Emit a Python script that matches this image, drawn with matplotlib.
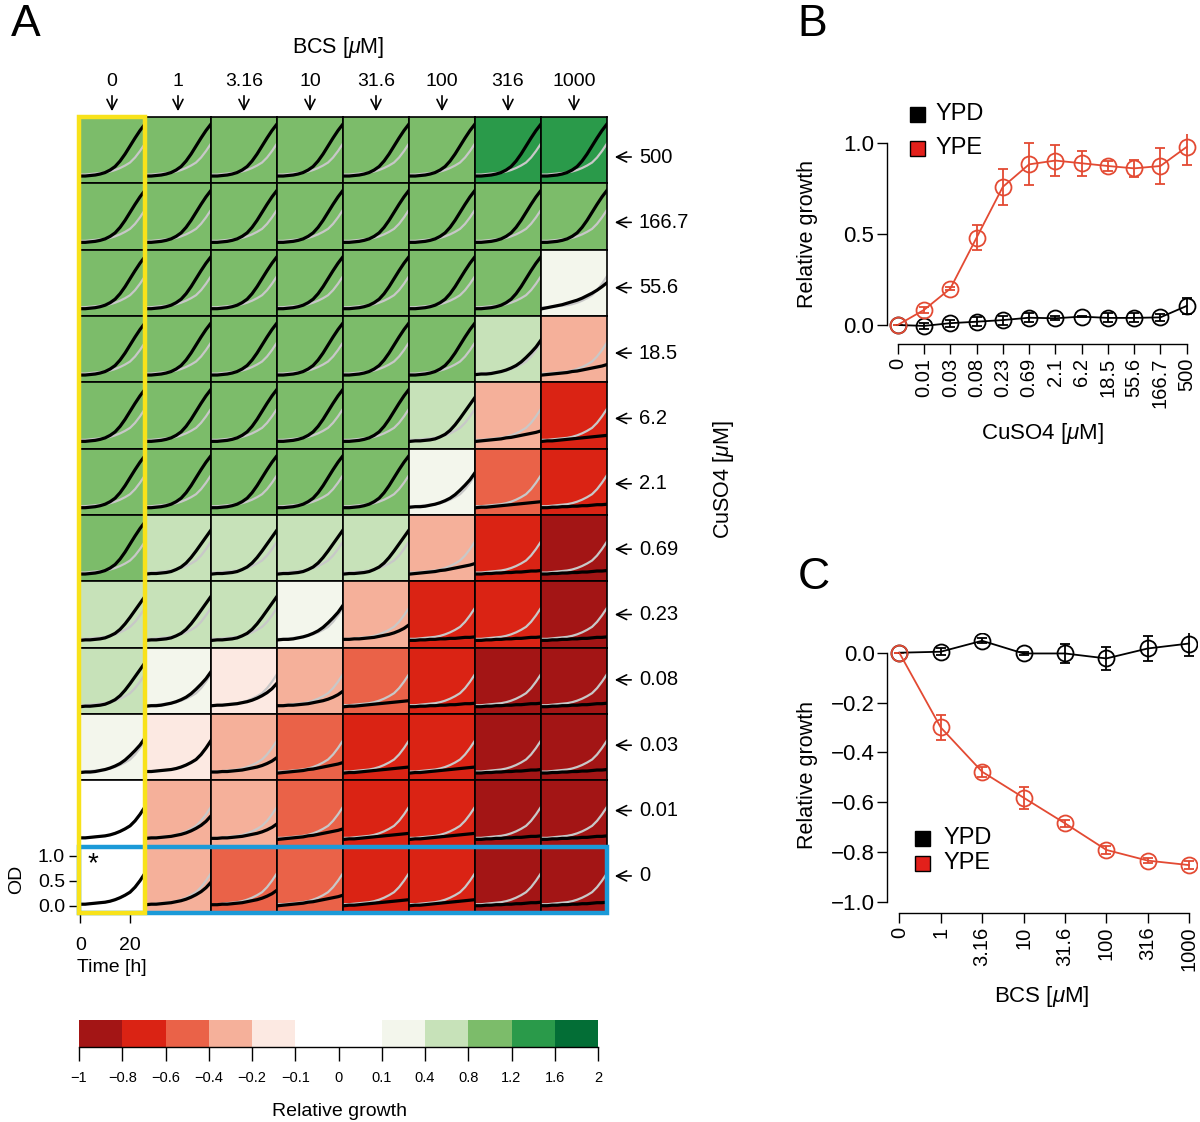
import matplotlib
matplotlib.use("Agg")
import matplotlib.pyplot as plt
from matplotlib.colors import ListedColormap, BoundaryNorm
from matplotlib.patches import Rectangle

plt.rcParams["font.family"] = ["Liberation Sans", "DejaVu Sans"]
plt.rcParams["mathtext.fontset"] = "custom"
plt.rcParams["mathtext.rm"] = "Liberation Sans"
plt.rcParams["mathtext.it"] = "Liberation Sans:italic"

W, H = 1200, 1122

# --- panel A: growth matrix -------------------------------------------------
BCS_LABELS = ["0", "1", "3.16", "10", "31.6", "100", "316", "1000"]
CUSO4_LABELS = ["500", "166.7", "55.6", "18.5", "6.2", "2.1",
                "0.69", "0.23", "0.08", "0.03", "0.01", "0"]

BOUNDS = [-1, -0.8, -0.6, -0.4, -0.2, -0.1, 0, 0.1, 0.4, 0.8, 1.2, 1.6, 2]
BOUND_LABELS = ["\u22121", "\u22120.8", "\u22120.6", "\u22120.4", "\u22120.2",
                "\u22120.1", "0", "0.1", "0.4", "0.8", "1.2", "1.6", "2"]
BIN_COLORS = ["#A31515", "#DA2314", "#EA6248", "#F5B09A", "#FCE9E2", "#FFFFFF",
              "#FFFFFF", "#F3F6EC", "#C7E2B9", "#7CBC6A", "#2A9A4A", "#036E36"]

# relative growth per cell (rows: CuSO4 high -> low, cols: BCS low -> high)
GROWTH = [
    [1.0, 1.0, 1.0, 1.0, 1.0, 1.0, 1.4, 1.4],
    [1.0, 1.0, 1.0, 1.0, 1.0, 1.0, 1.0, 1.0],
    [1.0, 1.0, 1.0, 1.0, 1.0, 1.0, 1.0, 0.2],
    [1.0, 1.0, 1.0, 1.0, 1.0, 1.0, 0.6, -0.3],
    [1.0, 1.0, 1.0, 1.0, 1.0, 0.6, -0.3, -0.7],
    [1.0, 1.0, 1.0, 1.0, 1.0, 0.2, -0.5, -0.7],
    [1.0, 0.6, 0.6, 0.6, 0.6, -0.3, -0.7, -0.9],
    [0.6, 0.6, 0.6, 0.2, -0.3, -0.7, -0.7, -0.9],
    [0.6, 0.2, -0.15, -0.3, -0.5, -0.7, -0.9, -0.9],
    [0.2, -0.15, -0.3, -0.5, -0.7, -0.7, -0.9, -0.9],
    [0.0, -0.3, -0.3, -0.5, -0.7, -0.7, -0.9, -0.9],
    [0.0, -0.3, -0.5, -0.5, -0.7, -0.7, -0.9, -0.9],
]

# which growth curve is drawn in each cell
CURVE_ID = [
    ["fast"] * 8,
    ["fast"] * 8,
    ["fast"] * 7 + ["lin"],
    ["fast"] * 6 + ["pale", "lin_low"],
    ["fast"] * 5 + ["mid", "lin_low", "flat"],
    ["fast"] * 5 + ["pale", "flat", "flatter"],
    ["fast", "mid", "mid", "mid", "mid", "lin_low", "flatter", "flatter"],
    ["mid", "mid", "mid", "pale", "slower", "flatter", "flatter", "flatter"],
    ["mid", "pale", "slow", "slower", "flat", "flatter", "flatter", "flatter"],
    ["pale", "ref", "slower", "lin_low", "flat", "flat", "flatter", "flatter"],
    ["ref", "slow", "slower", "lin_low", "flat", "flat", "flatter", "flatter"],
    ["ref", "slow", "slower", "lin_low", "flat", "flat", "flatter", "flatter"],
]

TIME_H = [0, 2, 4, 6, 8, 10, 12, 14, 16, 18, 20, 22, 24, 26]
REF_CURVE = [0.03, 0.03, 0.04, 0.05, 0.06, 0.07, 0.09, 0.12, 0.16, 0.21, 0.27, 0.37, 0.50, 0.65]
CURVES = {
    "ref":     REF_CURVE,
    "fast":    [0.00, 0.00, 0.01, 0.02, 0.04, 0.07, 0.12, 0.19, 0.30, 0.44, 0.60, 0.76, 0.91, 1.04],
    "mid":     [0.00, 0.01, 0.01, 0.02, 0.03, 0.05, 0.09, 0.14, 0.22, 0.33, 0.46, 0.60, 0.74, 0.88],
    "pale":    [0.01, 0.02, 0.02, 0.03, 0.05, 0.07, 0.10, 0.14, 0.19, 0.26, 0.35, 0.45, 0.56, 0.70],
    "slow":    [0.02, 0.03, 0.03, 0.04, 0.05, 0.06, 0.08, 0.10, 0.13, 0.17, 0.22, 0.28, 0.36, 0.47],
    "slower":  [0.02, 0.02, 0.03, 0.03, 0.04, 0.05, 0.06, 0.08, 0.10, 0.12, 0.15, 0.19, 0.24, 0.31],
    "lin":     [0.00, 0.02, 0.04, 0.06, 0.08, 0.11, 0.14, 0.17, 0.21, 0.26, 0.31, 0.37, 0.44, 0.52],
    "lin_low": [0.00, 0.01, 0.02, 0.03, 0.04, 0.05, 0.07, 0.08, 0.10, 0.12, 0.14, 0.16, 0.18, 0.21],
    "flat":    [0.00, 0.01, 0.01, 0.02, 0.03, 0.04, 0.05, 0.06, 0.07, 0.08, 0.09, 0.10, 0.11, 0.12],
    "flatter": [0.00, 0.00, 0.01, 0.01, 0.02, 0.02, 0.03, 0.03, 0.04, 0.04, 0.05, 0.06, 0.06, 0.07],
}

# --- panel B: CuSO4 titration ---------------------------------------------
CU_TICKS = ["0", "0.01", "0.03", "0.08", "0.23", "0.69", "2.1", "6.2",
            "18.5", "55.6", "166.7", "500"]
B_YPD = [0.0, -0.005, 0.01, 0.018, 0.027, 0.04, 0.037, 0.046, 0.039, 0.039, 0.042, 0.105]
B_YPD_ERR = [0.0, 0.015, 0.02, 0.025, 0.025, 0.025, 0.01, 0.003, 0.025, 0.025, 0.02, 0.045]
B_YPE = [0.0, 0.083, 0.20, 0.48, 0.76, 0.884, 0.905, 0.89, 0.875, 0.862, 0.875, 0.98]
B_YPE_ERR = [0.0, 0.015, 0.01, 0.07, 0.10, 0.115, 0.087, 0.07, 0.03, 0.045, 0.10, 0.10]

# --- panel C: BCS titration -----------------------------------------------
C_YPD = [0.0, 0.004, 0.048, -0.003, -0.003, -0.023, 0.017, 0.037]
C_YPD_ERR = [0.0, 0.015, 0.01, 0.005, 0.04, 0.047, 0.049, 0.049]
C_YPE = [0.0, -0.30, -0.478, -0.582, -0.685, -0.792, -0.835, -0.853]
C_YPE_ERR = [0.0, 0.05, 0.02, 0.044, 0.015, 0.015, 0.01, 0.015]

RED = "#E34A33"
GRAY = "#C8C8C8"

cmap = ListedColormap(BIN_COLORS)
norm = BoundaryNorm(BOUNDS, cmap.N)

fig = plt.figure(figsize=(W / 100, H / 100), dpi=100)


def px_axes(x0, y0, x1, y1):
    return fig.add_axes([x0 / W, 1 - y1 / H, (x1 - x0) / W, (y1 - y0) / H])


# grid of growth curves
GX, GY, CW, CH = 79, 117, 66, 796 / 12
for r in range(len(CUSO4_LABELS)):
    for c in range(len(BCS_LABELS)):
        ax = px_axes(GX + c * CW, GY + r * CH, GX + (c + 1) * CW, GY + (r + 1) * CH)
        ax.set_facecolor(cmap(norm(GROWTH[r][c])))
        ax.plot(TIME_H, REF_CURVE, color=GRAY, lw=1.6)
        ax.plot(TIME_H, CURVES[CURVE_ID[r][c]], color="black", lw=2.3)
        ax.set_xlim(-0.5, 26)
        ax.set_ylim(-0.146, 1.18)
        for s in ax.spines.values():
            s.set_linewidth(1.2)
        if r == len(CUSO4_LABELS) - 1 and c == 0:
            ax.set_yticks([0, 0.5, 1.0], ["0.0", "0.5", "1.0"])
            ax.set_xticks([0, 20], ["0", "20"])
            ax.tick_params(axis="y", labelsize=14, length=7, width=1, pad=3)
            ax.tick_params(axis="x", labelsize=14, length=7, width=1, pad=10)
            ax.set_ylabel("OD", fontsize=14, labelpad=9)
            ax.set_xlabel("Time [h]", fontsize=14, labelpad=4)
        else:
            ax.set_xticks([])
            ax.set_yticks([])

# colour key
cax = px_axes(79, 1020, 598, 1047)
cax.bar(range(len(BIN_COLORS)), 1, width=1, align="edge", color=BIN_COLORS)
cax.set_xlim(0, len(BIN_COLORS))
cax.set_ylim(0, 1)
cax.set_yticks([])
cax.set_xticks(range(len(BOUNDS)), BOUND_LABELS)
cax.tick_params(axis="x", labelsize=10.5, length=10, width=1, pad=7)
for side in ["top", "left", "right"]:
    cax.spines[side].set_visible(False)
cax.spines["bottom"].set_linewidth(1)


def style_r(ax, ybounds, xbounds):
    for side in ["top", "right"]:
        ax.spines[side].set_visible(False)
    ax.spines["left"].set_bounds(*ybounds)
    ax.spines["bottom"].set_bounds(*xbounds)
    for side in ["left", "bottom"]:
        ax.spines[side].set_linewidth(1)
    ax.tick_params(axis="y", labelsize=16, length=7, width=1, pad=2)
    ax.tick_params(axis="x", labelsize=14.5, length=7, width=1, pad=3,
                   labelrotation=90)


eb = dict(marker="o", ms=11.5, mfc="none", mew=1.3, lw=1.3, capsize=3.5,
          elinewidth=1.3, capthick=1.3)

# panel B
axB = px_axes(886.7, 134.2, 1197.7, 344)
xb = range(len(CU_TICKS))
axB.errorbar(xb, B_YPD, yerr=B_YPD_ERR, color="black", **eb)
axB.errorbar(xb, B_YPE, yerr=B_YPE_ERR, color=RED, **eb)
axB.set_xlim(-0.42, 11.42)
axB.set_ylim(-0.1046, 1.05)
axB.set_yticks([0, 0.5, 1.0], ["0.0", "0.5", "1.0"])
axB.set_xticks(list(xb), CU_TICKS)
style_r(axB, (0, 1), (0, 11))

# panel C
axC = px_axes(887.3, 632.8, 1197, 912.7)
xc = range(len(BCS_LABELS))
axC.errorbar(xc, C_YPD, yerr=C_YPD_ERR, color="black", **eb)
axC.errorbar(xc, C_YPE, yerr=C_YPE_ERR, color=RED, **eb)
axC.set_xlim(-0.29, 7.19)
axC.set_ylim(-1.0442, 0.08)
axC.set_yticks([0, -0.2, -0.4, -0.6, -0.8, -1.0],
               ["0.0", "\u22120.2", "\u22120.4", "\u22120.6", "\u22120.8", "\u22121.0"])
axC.set_xticks(list(xc), BCS_LABELS)
style_r(axC, (-1, 0), (0, 7))

# overlay in pixel coordinates for labels, arrows and highlight boxes
ov = fig.add_axes([0, 0, 1, 1])
ov.set_xlim(0, W)
ov.set_ylim(H, 0)
ov.axis("off")
ov.patch.set_visible(False)

for letter, (lx, ly) in {"A": (26, 24), "B": (812, 24), "C": (814, 577)}.items():
    ov.text(lx, ly, letter, fontsize=32, ha="center", va="center")

ov.text(338, 47, r"BCS [$\mu$M]", fontsize=15.5, ha="center", va="center")
for c, lab in enumerate(BCS_LABELS):
    cx = GX + (c + 0.5) * CW
    ov.text(cx, 81, lab, fontsize=14, ha="center", va="center")
    ov.annotate("", xy=(cx, 114), xytext=(cx, 93),
                arrowprops=dict(arrowstyle="->", lw=1.2, mutation_scale=18))
for r, lab in enumerate(CUSO4_LABELS):
    ry = 157 + r * 65.36
    ov.annotate("", xy=(612, ry), xytext=(634, ry),
                arrowprops=dict(arrowstyle="->", lw=1.2, mutation_scale=18))
    ov.text(639, ry, lab, fontsize=14.5, ha="left", va="center")
ov.text(723, 480, r"CuSO4 [$\mu$M]", fontsize=15.5, ha="center", va="center",
        rotation=90)
ov.text(93, 864, "*", fontsize=20, ha="center", va="center")
ov.text(340, 1111, "Relative growth", fontsize=14, ha="center", va="center")

# highlight boxes
ov.add_patch(Rectangle((GX, GY + 11 * CH), 8 * CW, CH, fill=False,
                       ec="#1B9AD8", lw=3.2, zorder=5))
ov.add_patch(Rectangle((GX, GY), CW, 12 * CH, fill=False,
                       ec="#F8E21A", lw=3.2, zorder=6))

# panel B / C axis titles
ov.text(808, 234, "Relative growth", fontsize=15.5, ha="center", va="center", rotation=90)
ov.text(1042, 433, r"CuSO4 [$\mu$M]", fontsize=16, ha="center", va="center")
ov.text(808, 775, "Relative growth", fontsize=15.5, ha="center", va="center", rotation=90)
ov.text(1042, 996, r"BCS [$\mu$M]", fontsize=16, ha="center", va="center")

# legends
for (sx, tx, y0, dy) in [(917, 936, 114, 34), (922, 943, 838, 25)]:
    for k, (name, col) in enumerate([("YPD", "black"), ("YPE", "#E3201B")]):
        yy = y0 + k * dy
        ov.add_patch(Rectangle((sx - 7.5, yy - 7.5), 15, 15, fc=col, ec="black", lw=1))
        ov.text(tx, yy, name, fontsize=17, ha="left", va="center")

fig.savefig("out.png", dpi=100)
plt.close(fig)
